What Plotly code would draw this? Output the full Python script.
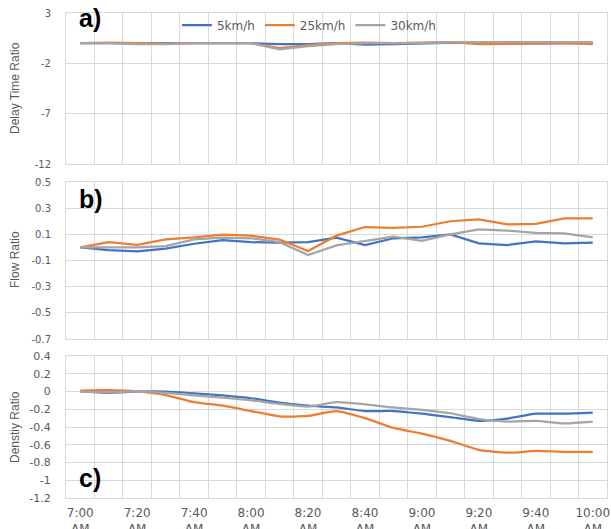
import plotly.graph_objects as go

times = ["7:00", "7:10", "7:20", "7:30", "7:40", "7:50", "8:00", "8:10", "8:20", "8:30",
         "8:40", "8:50", "9:00", "9:10", "9:20", "9:30", "9:40", "9:50", "10:00"]
x_tick_text = ["7:00<br>AM", "", "7:20<br>AM", "", "7:40<br>AM", "", "8:00<br>AM", "", "8:20<br>AM", "",
               "8:40<br>AM", "", "9:00<br>AM", "", "9:20<br>AM", "", "9:40<br>AM", "", "10:00<br>AM"]

series_names = ["5km/h", "25km/h", "30km/h"]

delay_5 = [0, 0, -0.05, 0, -0.05, 0, 0, -0.1, -0.1, 0, -0.15, -0.1, -0.05, 0, 0.1, -0.05, 0, 0, 0]
delay_25 = [0, 0.05, 0, -0.05, 0, 0, 0, -0.5, -0.2, 0, 0.05, 0, 0.05, 0.1, -0.1, -0.05, 0, 0, -0.1]
delay_30 = [0, 0, -0.1, -0.1, 0, 0, 0, -0.6, -0.3, -0.1, 0, 0, 0, 0.1, 0.1, 0.1, 0.1, 0.1, 0.1]

flow_5 = [0, -0.02, -0.03, -0.01, 0.028, 0.056, 0.04, 0.036, 0.04, 0.074, 0.018, 0.07, 0.077, 0.1,
          0.031, 0.018, 0.047, 0.031, 0.036]
flow_25 = [0, 0.041, 0.02, 0.062, 0.077, 0.097, 0.09, 0.06, -0.027, 0.09, 0.156, 0.15, 0.158, 0.2,
           0.215, 0.177, 0.18, 0.222, 0.222]
flow_30 = [0, 0, 0, 0.01, 0.062, 0.075, 0.07, 0.04, -0.058, 0.016, 0.051, 0.082, 0.051, 0.1,
           0.138, 0.128, 0.112, 0.107, 0.077]

dens_5 = [0, -0.015, 0, 0, -0.02, -0.045, -0.076, -0.125, -0.16, -0.18, -0.22, -0.22, -0.25, -0.29,
          -0.33, -0.305, -0.25, -0.25, -0.238]
dens_25 = [0.01, 0.015, 0, -0.04, -0.12, -0.16, -0.22, -0.28, -0.275, -0.22, -0.30, -0.41, -0.475,
           -0.556, -0.657, -0.69, -0.67, -0.68, -0.68]
dens_30 = [0, -0.01, 0, -0.015, -0.045, -0.07, -0.10, -0.14, -0.17, -0.12, -0.145, -0.18, -0.207,
           -0.245, -0.31, -0.34, -0.33, -0.36, -0.34]

a_ticks = [3, -2, -7, -12]
a_tick_text = ["3", "-2", "-7", "-12"]
b_ticks = [0.5, 0.3, 0.1, -0.1, -0.3, -0.5, -0.7]
b_tick_text = ["0.5", "0.3", "0.1", "-0.1", "-0.3", "-0.5", "-0.7"]
c_ticks = [0.4, 0.2, 0, -0.2, -0.4, -0.6, -0.8, -1, -1.2]
c_tick_text = ["0.4", "0.2", "0", "-0.2", "-0.4", "-0.6", "-0.8", "-1", "-1.2"]

colors = ["#4472C4", "#ED7D31", "#A5A5A5"]
grid = "#D9D9D9"
txt = "#595959"

fig = go.Figure()

panels = [
    ([delay_5, delay_25, delay_30], "x", "y", "linear"),
    ([flow_5, flow_25, flow_30], "x2", "y2", "linear"),
    ([dens_5, dens_25, dens_30], "x3", "y3", "spline"),
]
for p, (vals, xa, ya, shape) in enumerate(panels):
    for s in range(3):
        fig.add_trace(go.Scatter(
            x=times, y=vals[s], mode="lines", name=series_names[s],
            line=dict(color=colors[s], width=2.25, shape=shape, smoothing=0.6 if shape == "spline" else None),
            xaxis=xa, yaxis=ya, legendgroup=series_names[s], showlegend=(p == 0)))

def xax(domain_anchor, show_labels):
    return dict(
        type="category", range=[-0.5, 18.5], domain=[0, 1], anchor=domain_anchor,
        tickmode="array", tickvals=times, ticktext=x_tick_text if show_labels else [""] * len(times),
        showticklabels=show_labels, tickson="boundaries", ticks="", tickangle=0, automargin=False,
        showgrid=True, gridcolor=grid, gridwidth=1,
        showline=True, linecolor=grid, linewidth=1, mirror=True, zeroline=False,
        tickfont=dict(family="DejaVu Sans", size=12, color=txt), ticklabelstandoff=4,
    )

def yax(rng, tv, tt, domain, fsize, family):
    return dict(
        range=rng, domain=domain, tickmode="array", tickvals=tv, ticktext=tt, automargin=False,
        showgrid=True, gridcolor=grid, gridwidth=1, zeroline=False, ticks="",
        showline=True, linecolor=grid, linewidth=1, mirror=True,
        tickfont=dict(family=family, size=fsize, color=txt), ticklabelstandoff=12,
    )

H = 529
top, bot = 13, 31
ph = H - top - bot
def dom(t, b):
    return [(H - bot - b) / ph, (H - bot - t) / ph]

fig.update_layout(
    width=611, height=H,
    margin=dict(l=66, r=4, t=top, b=bot, autoexpand=False),
    paper_bgcolor="white", plot_bgcolor="white",
    showlegend=True,
    legend=dict(orientation="h", x=0.205, y=dom(25, 25)[0], xanchor="left", yanchor="middle",
                font=dict(family="DejaVu Sans", size=12, color=txt), bgcolor="rgba(0,0,0,0)",
                itemwidth=30, tracegroupgap=0),
    xaxis=xax("y", False),
    xaxis2=xax("y2", False),
    xaxis3=xax("y3", True),
    yaxis=yax([-12, 3], a_ticks, a_tick_text, dom(13, 164), 10, "DejaVu Sans"),
    yaxis2=yax([-0.7, 0.5], b_ticks, b_tick_text, dom(182, 339), 10, "DejaVu Sans"),
    yaxis3=yax([-1.2, 0.4], c_ticks, c_tick_text, dom(356, 498), 11, "DejaVu Sans"),
)

labels = [("a)", 18), ("b)", 199), ("c)", 478)]
for lab, ypix in labels:
    fig.add_annotation(text="<b>%s</b>" % lab, xref="paper", yref="paper",
                       x=(77 - 66) / 541, y=dom(ypix, ypix)[0], xanchor="left", yanchor="middle",
                       showarrow=False, font=dict(family="Liberation Sans, Arial", size=25, color="black"))

titles = [("Delay Time Ratio", 88), ("Flow Ratio", 260), ("Denstiy Ratio", 427)]
for t, ypix in titles:
    fig.add_annotation(text=t, xref="paper", yref="paper", textangle=-90,
                       x=(15 - 66) / 541, y=dom(ypix, ypix)[0], xanchor="center", yanchor="middle",
                       showarrow=False,
                       font=dict(family="Liberation Sans Narrow, Liberation Sans, Arial", size=12, color=txt))

fig.write_html("out.html")
